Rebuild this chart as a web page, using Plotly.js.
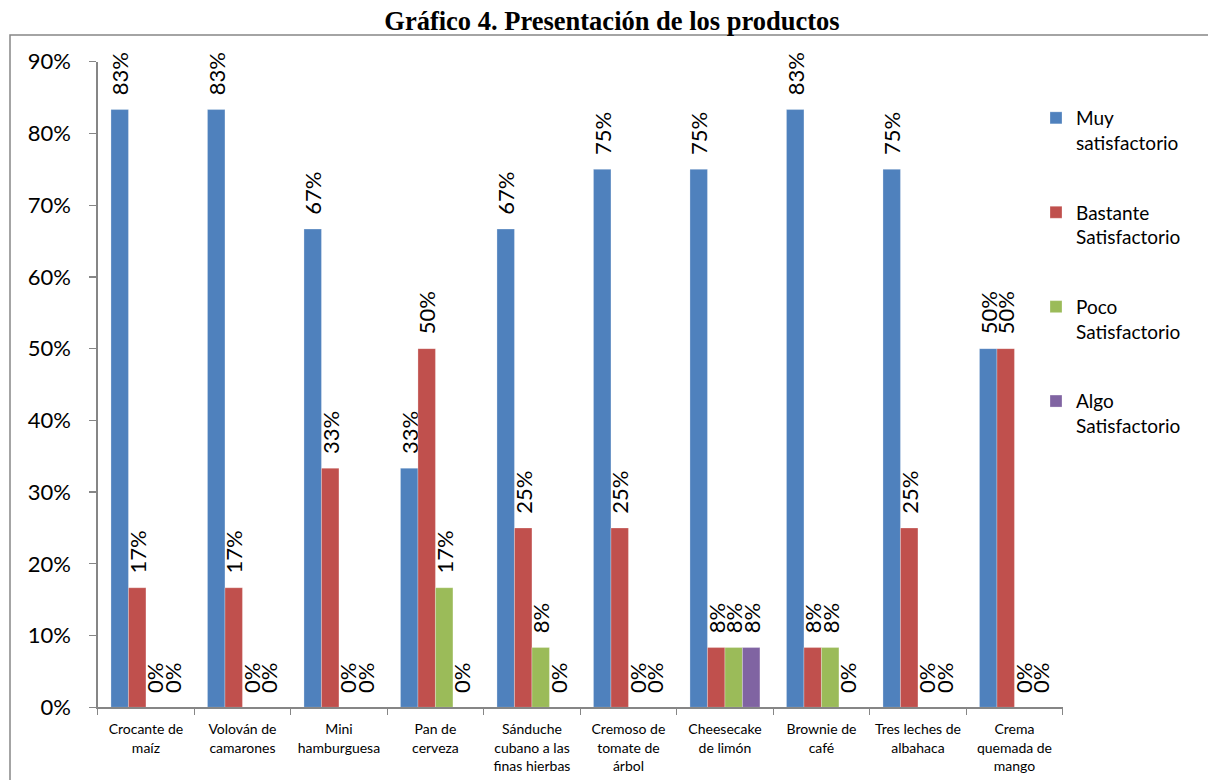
<!DOCTYPE html>
<html>
<head>
<meta charset="utf-8">
<script src="https://cdn.plot.ly/plotly-3.0.1.min.js"></script>
<style>html,body{margin:0;padding:0;background:#fff;}#chart{width:1208px;height:780px;}</style>
</head>
<body>
<div id="chart"></div>
<script>
var categories = [
  "Crocante de<br>maíz",
  "Volován de<br>camarones",
  "Mini<br>hamburguesa",
  "Pan de<br>cerveza",
  "Sánduche<br>cubano a las<br>finas hierbas",
  "Cremoso de<br>tomate de<br>árbol",
  "Cheesecake<br>de limón",
  "Brownie de<br>café",
  "Tres leches de<br>albahaca",
  "Crema<br>quemada de<br>mango"
];
var seriesNames = ["Muy<br>satisfactorio", "Bastante<br>Satisfactorio", "Poco<br>Satisfactorio", "Algo<br>Satisfactorio"];
var muySatisfactorio      = [0.8333, 0.8333, 0.6667, 0.3333, 0.6667, 0.75, 0.75, 0.8333, 0.75, 0.50];
var bastanteSatisfactorio = [0.1667, 0.1667, 0.3333, 0.50, 0.25, 0.25, 0.0833, 0.0833, 0.25, 0.50];
var pocoSatisfactorio     = [0, 0, 0, 0.1667, 0.0833, 0, 0.0833, 0.0833, 0, 0];
var algoSatisfactorio     = [0, 0, 0, 0, 0, 0, 0.0833, 0, 0, 0];
var yTickVals = [0, 0.1, 0.2, 0.3, 0.4, 0.5, 0.6, 0.7, 0.8, 0.9];
var yTickText = ["0%", "10%", "20%", "30%", "40%", "50%", "60%", "70%", "80%", "90%"];

var colors = ["#4F81BD", "#C0504D", "#9BBB59", "#8064A2"];
var allSeries = [muySatisfactorio, bastanteSatisfactorio, pocoSatisfactorio, algoSatisfactorio];
var W = 1208, H = 780;
var font = "Lato, 'Open Sans', sans-serif";

var traces = allSeries.map(function (vals, i) {
  return {
    type: "bar",
    name: seriesNames[i],
    legendgroup: "g" + i,
    x: categories,
    y: vals,
    marker: {color: colors[i], line: {color: "rgba(255,255,255,0.45)", width: 0.6}},
    texttemplate: "\u00a0\u00a0%{y:.0%}",
    textposition: "outside",
    textangle: -90,
    constraintext: "none",
    cliponaxis: false,
    textfont: {family: font, size: 22, color: "#000"},
    hoverinfo: "skip"
  };
});

var layout = {
  width: W, height: H,
  margin: {l: 0, r: 0, t: 0, b: 0, autoexpand: false},
  paper_bgcolor: "#fff",
  plot_bgcolor: "#fff",
  barmode: "group",
  bargap: 0.275,
  bargroupgap: 0,
  showlegend: true,
  title: {
    text: "Gráfico 4. Presentación de los productos",
    font: {family: "'Liberation Serif', 'Times New Roman', serif", size: 26.5, color: "#000", weight: "bold"},
    x: 612 / W, xanchor: "center", xref: "container",
    y: 1 - 21 / H, yanchor: "middle", yref: "container"
  },
  xaxis: {
    domain: [97.7 / W, 1062.7 / W],
    type: "category",
    showline: true, linecolor: "#868686", linewidth: 1.3,
    ticks: "outside", tickson: "boundaries", ticklen: 6, tickcolor: "#868686", tickwidth: 1.3,
    showgrid: false, zeroline: false,
    tickangle: 0,
    tickfont: {family: font, size: 14, color: "#000"},
    ticklabelstandoff: 9
  },
  yaxis: {
    domain: [72.7 / H, 718.3 / H],
    range: [0, 0.9],
    tickvals: yTickVals, ticktext: yTickText,
    showline: true, linecolor: "#868686", linewidth: 1.3,
    ticks: "outside", ticklen: 7, tickcolor: "#868686", tickwidth: 1.3,
    showgrid: false, zeroline: false,
    tickfont: {family: font, size: 22, color: "#000"},
    ticklabelstandoff: 14
  },
  legend: {
    x: 1036 / W, xanchor: "left", xref: "paper",
    y: 1 - 99 / H, yanchor: "top", yref: "paper",
    traceorder: "grouped",
    tracegroupgap: 42,
    valign: "top",
    font: {family: font, size: 19, color: "#000"},
    bgcolor: "rgba(0,0,0,0)"
  },
  shapes: [{
    type: "rect", xref: "paper", yref: "paper",
    x0: 10 / W, x1: 1.01, y0: -0.01, y1: 1 - 35 / H,
    line: {color: "#868686", width: 1.5}, fillcolor: "rgba(0,0,0,0)", layer: "below"
  }]
};

Plotly.newPlot("chart", traces, layout, {staticPlot: true, displayModeBar: false});
</script>
</body>
</html>
